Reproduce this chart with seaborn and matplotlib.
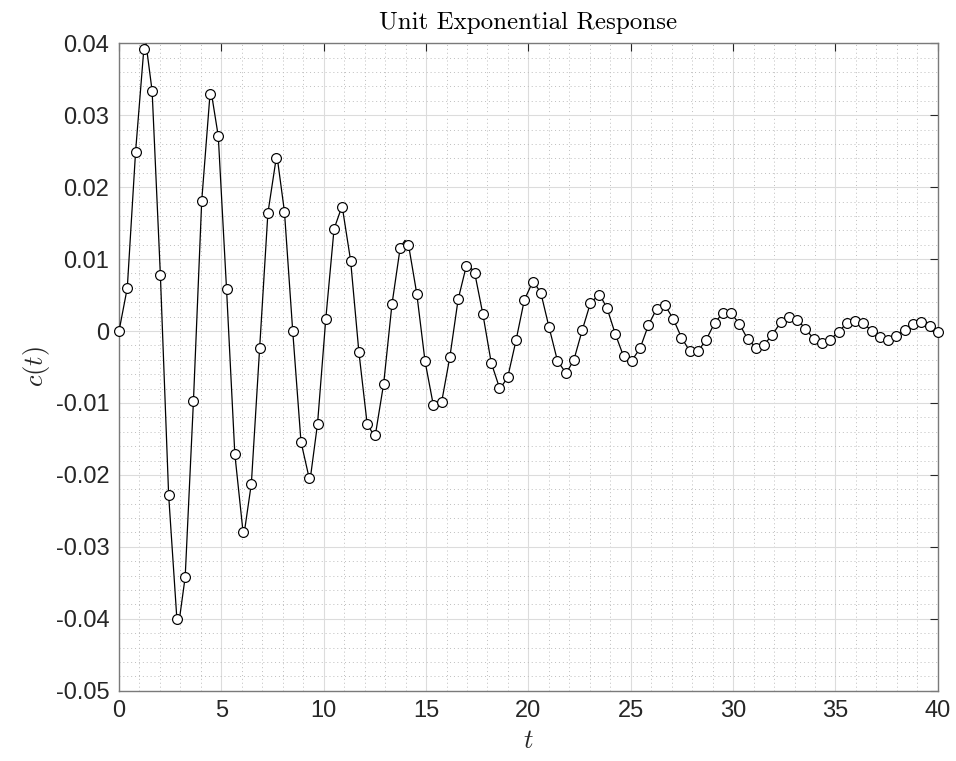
import numpy as np
import pandas as pd
import matplotlib
matplotlib.use("Agg")
import matplotlib.pyplot as plt
from matplotlib.ticker import MultipleLocator, FixedLocator
import seaborn as sns

# ---- data ----
t_samples = [0.000, 0.404, 0.808, 1.212, 1.616, 2.020, 2.424, 2.828, 3.232, 3.636,
             4.040, 4.444, 4.848, 5.253, 5.657, 6.061, 6.465, 6.869, 7.273, 7.677,
             8.081, 8.485, 8.889, 9.293, 9.697, 10.101, 10.505, 10.909, 11.313, 11.717,
             12.121, 12.525, 12.929, 13.333, 13.737, 14.141, 14.545, 14.949, 15.354, 15.758,
             16.162, 16.566, 16.970, 17.374, 17.778, 18.182, 18.586, 18.990, 19.394, 19.798,
             20.202, 20.606, 21.010, 21.414, 21.818, 22.222, 22.626, 23.030, 23.434, 23.838,
             24.242, 24.646, 25.051, 25.455, 25.859, 26.263, 26.667, 27.071, 27.475, 27.879,
             28.283, 28.687, 29.091, 29.495, 29.899, 30.303, 30.707, 31.111, 31.515, 31.919,
             32.323, 32.727, 33.131, 33.535, 33.939, 34.343, 34.747, 35.152, 35.556, 35.960,
             36.364, 36.768, 37.172, 37.576, 37.980, 38.384, 38.788, 39.192, 39.596, 40.000]

c_samples = [0.0000, 0.0060, 0.0249, 0.0392, 0.0334, 0.0078, -0.0228, -0.0401, -0.0342, -0.0097,
             0.0181, 0.0329, 0.0271, 0.0058, -0.0171, -0.0280, -0.0212, -0.0024, 0.0164, 0.0240,
             0.0166, 0.0000, -0.0154, -0.0205, -0.0129, 0.0017, 0.0142, 0.0172, 0.0098, -0.0029,
             -0.0129, -0.0144, -0.0073, 0.0037, 0.0116, 0.0120, 0.0052, -0.0042, -0.0103, -0.0099,
             -0.0036, 0.0044, 0.0091, 0.0081, 0.0023, -0.0044, -0.0079, -0.0064, -0.0013, 0.0043,
             0.0068, 0.0053, 0.0005, -0.0041, -0.0058, -0.0040, 0.0001, 0.0039, 0.0050, 0.0032,
             -0.0004, -0.0035, -0.0041, -0.0024, 0.0008, 0.0031, 0.0036, 0.0017, -0.0009, -0.0028,
             -0.0028, -0.0012, 0.0011, 0.0025, 0.0025, 0.0010, -0.0011, -0.0023, -0.0019, -0.0005,
             0.0012, 0.0020, 0.0016, 0.0003, -0.0011, -0.0016, -0.0012, -0.0001, 0.0011, 0.0014,
             0.0011, 0.0000, -0.0008, -0.0012, -0.0007, 0.0002, 0.0010, 0.0012, 0.0007, -0.0002]

# local extremes of the continuous curve
t_extremes = [1.32, 2.92, 4.50, 6.10, 7.72, 9.33, 10.90, 12.47, 13.97, 15.50, 17.05, 18.60,
              20.22, 21.82, 23.45, 25.05, 26.60, 28.08, 29.70, 31.30, 32.90, 34.40, 35.95,
              37.50, 39.05]
c_extremes = [0.0399, -0.0407, 0.0333, -0.0284, 0.0243, -0.0208, 0.0174, -0.0146, 0.0126,
              -0.0106, 0.0093, -0.0081, 0.0070, -0.0060, 0.0052, -0.0043, 0.0037, -0.0030,
              0.0027, -0.0023, 0.0021, -0.0017, 0.0015, -0.0013, 0.0012]

x_ticks = [0, 5, 10, 15, 20, 25, 30, 35, 40]
y_ticks = [-0.05, -0.04, -0.03, -0.02, -0.01, 0.0, 0.01, 0.02, 0.03, 0.04]
y_tick_labels = ["-0.05", "-0.04", "-0.03", "-0.02", "-0.01", "0", "0.01", "0.02", "0.03", "0.04"]

markers_df = pd.DataFrame({"t": t_samples, "c": c_samples})
curve_df = pd.concat([markers_df, pd.DataFrame({"t": t_extremes, "c": c_extremes})]).sort_values("t")

# ---- style ----
sns.set_style("white")
plt.rcParams["font.family"] = ["Liberation Sans", "DejaVu Sans"]
plt.rcParams["mathtext.fontset"] = "cm"

fig = plt.figure(figsize=(9.56, 7.61), dpi=100)
ax = fig.add_axes([0.1245, 0.0924, 0.8565, 0.8507])

sns.lineplot(data=curve_df, x="t", y="c", ax=ax, color="black", linewidth=0.9,
             estimator=None, sort=True, zorder=3)
sns.scatterplot(data=markers_df, x="t", y="c", ax=ax, marker="o", s=50,
                facecolor="white", edgecolor="black", linewidth=0.85, zorder=4, clip_on=False)

ax.set_xlim(0, 40)
ax.set_ylim(-0.05, 0.04)
ax.xaxis.set_major_locator(FixedLocator(x_ticks))
ax.set_yticks(y_ticks)
ax.set_yticklabels(y_tick_labels)
ax.xaxis.set_minor_locator(MultipleLocator(1))
ax.yaxis.set_minor_locator(MultipleLocator(0.002))

ax.grid(which="major", color="#dcdcdc", linewidth=0.8, linestyle="-")
ax.grid(which="minor", color="#bdbdbd", linewidth=0.7, linestyle=(0, (1, 3)))
ax.set_axisbelow(True)

ax.tick_params(which="major", direction="in", length=6, width=0.8, color="#262626",
               top=True, right=True, labelsize=17, labelcolor="#262626", pad=7)
ax.tick_params(which="minor", length=0, top=True, right=True)
for sp in ax.spines.values():
    sp.set_color("#7a7a7a")
    sp.set_linewidth(1.0)
    sp.set_visible(True)

ax.set_title("Unit Exponential Response", fontfamily="cmr10", fontsize=18, pad=10, color="black")
ax.set_xlabel("$t$", fontsize=19, color="#262626", labelpad=5)
ax.set_ylabel("$c(t)$", fontsize=19, color="#262626", labelpad=3)

fig.savefig("out.png", dpi=100, facecolor="white")
